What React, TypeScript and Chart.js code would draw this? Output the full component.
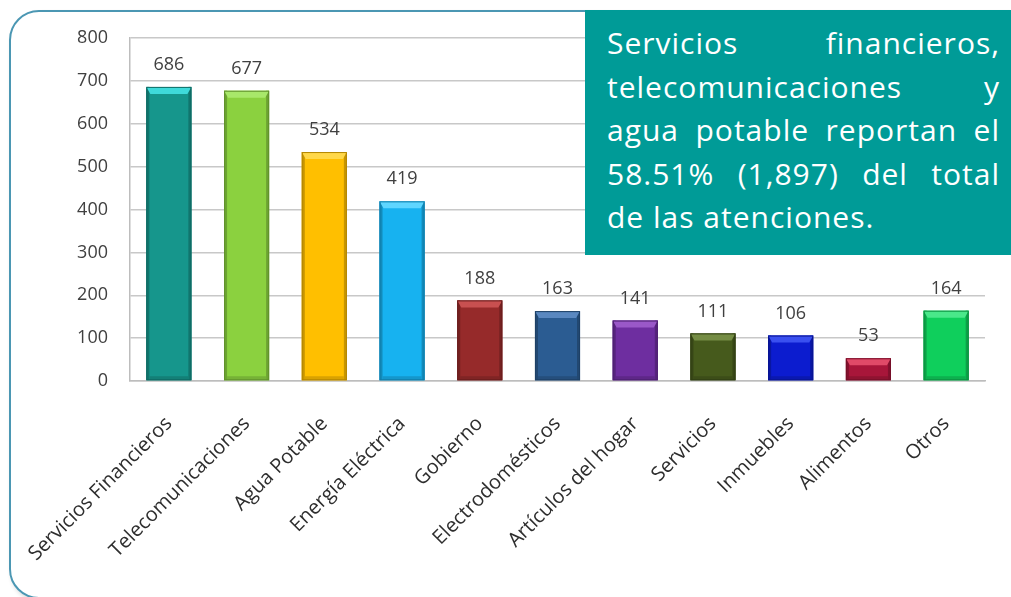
import { useEffect, useRef } from "react";
import { Chart, registerables } from "chart.js";

Chart.register(...registerables);

const categories = [
  "Servicios Financieros",
  "Telecomunicaciones",
  "Agua Potable",
  "Energía Eléctrica",
  "Gobierno",
  "Electrodomésticos",
  "Artículos del hogar",
  "Servicios",
  "Inmuebles",
  "Alimentos",
  "Otros",
];
const values = [686, 677, 534, 419, 188, 163, 141, 111, 106, 53, 164];
const barColors = [
  "#16968c",
  "#8bd13f",
  "#ffbf00",
  "#17b2f0",
  "#962a2a",
  "#2b5c92",
  "#6e2ea0",
  "#465a1c",
  "#0c1ccf",
  "#a8163a",
  "#0fcf5c",
];
const bevelColors = [
  "#3fdada",
  "#a8e86a",
  "#ffd84a",
  "#5fd6ff",
  "#c85050",
  "#5a88c0",
  "#9a58c8",
  "#748c44",
  "#3a50f0",
  "#e04a68",
  "#4ae88a",
];
const yMin = 0;
const yMax = 800;
const yStep = 100;
const noteLines = [
  "Servicios financieros,",
  "telecomunicaciones y",
  "agua potable reportan el",
  "58.51% (1,897) del total",
  "de las atenciones.",
];

function shade(hex: string, f: number): string {
  const n = parseInt(hex.slice(1), 16);
  const r = Math.round(((n >> 16) & 255) * f);
  const g = Math.round(((n >> 8) & 255) * f);
  const b = Math.round((n & 255) * f);
  return `rgb(${r},${g},${b})`;
}

const bevelPlugin = {
  id: "bevel",
  afterDatasetsDraw(chart: any) {
    const ctx = chart.ctx;
    const meta = chart.getDatasetMeta(0);
    meta.data.forEach((bar: any, i: number) => {
      const { x, y, base, width } = bar.getProps(["x", "y", "base", "width"], true);
      const l = x - width / 2;
      const r = x + width / 2;
      const h = base - y;
      const bv = Math.min(7, h / 3);
      ctx.save();
      ctx.fillStyle = shade(barColors[i], 0.78);
      ctx.fillRect(l, y, 3, h);
      ctx.fillRect(r - 3, y, 3, h);
      ctx.fillStyle = shade(barColors[i], 0.85);
      ctx.fillRect(l + 3, base - 4, width - 6, 4);
      ctx.fillStyle = bevelColors[i];
      ctx.beginPath();
      ctx.moveTo(l, y);
      ctx.lineTo(r, y);
      ctx.lineTo(r - 4, y + bv);
      ctx.lineTo(l + 4, y + bv);
      ctx.closePath();
      ctx.fill();
      ctx.strokeStyle = shade(barColors[i], 0.7);
      ctx.lineWidth = 1;
      ctx.strokeRect(l + 0.5, y + 0.5, width - 1, h - 1);
      ctx.restore();
    });
  },
};

const valueLabelPlugin = {
  id: "valueLabels",
  afterDatasetsDraw(chart: any) {
    const ctx = chart.ctx;
    const meta = chart.getDatasetMeta(0);
    ctx.save();
    ctx.font = "18px 'Open Sans'";
    ctx.fillStyle = "#404040";
    ctx.textAlign = "center";
    ctx.textBaseline = "bottom";
    meta.data.forEach((bar: any, i: number) => {
      const { x, y } = bar.getProps(["x", "y"], true);
      ctx.fillText(String(values[i]), x, y - 13);
    });
    ctx.restore();
  },
};

export default function App() {
  const ref = useRef<HTMLCanvasElement | null>(null);

  useEffect(() => {
    if (!ref.current) return;
    const chart = new Chart(ref.current, {
      type: "bar",
      data: {
        labels: categories,
        datasets: [
          {
            data: values,
            backgroundColor: barColors,
            borderWidth: 0,
            barPercentage: 0.58,
            categoryPercentage: 1,
          },
        ],
      },
      options: {
        animation: false,
        responsive: false,
        layout: { padding: { left: 0, top: 38, right: 26, bottom: 0 } },
        plugins: {
          legend: { display: false },
          tooltip: { enabled: false },
        },
        scales: {
          x: {
            grid: { display: false, drawTicks: false },
            border: { color: "#bdbdbd", width: 1.5 },
            ticks: {
              maxRotation: 45,
              minRotation: 45,
              autoSkip: false,
              padding: 31,
              color: "#2e2e2e",
              font: { family: "'Open Sans'", size: 20 },
            },
            afterFit(scale: any) {
              scale.height = 216;
              scale.paddingLeft = 0;
              scale.paddingRight = 0;
            },
          },
          y: {
            min: yMin,
            max: yMax,
            grid: { color: "#c8c8c8", lineWidth: 1.5, drawTicks: false },
            border: { color: "#bdbdbd", width: 1.5 },
            ticks: {
              stepSize: yStep,
              padding: 22,
              color: "#404040",
              font: { family: "'Open Sans'", size: 18 },
            },
            afterFit(scale: any) {
              scale.width = 130;
            },
          },
        },
      },
      plugins: [bevelPlugin, valueLabelPlugin],
    });
    return () => chart.destroy();
  }, []);

  return (
    <div
      style={{
        position: "fixed",
        left: 0,
        top: 0,
        width: 1011,
        height: 597,
        background: "#ffffff",
        overflow: "hidden",
      }}
    >
      <div
        style={{
          position: "absolute",
          left: 9,
          top: 10,
          width: 1030,
          height: 589,
          border: "2px solid #4b97b3",
          borderRadius: 30,
          boxShadow: "2px 3px 4px rgba(0,0,0,0.15)",
          boxSizing: "border-box",
        }}
      />
      <canvas
        ref={ref}
        width={1011}
        height={597}
        style={{ position: "absolute", left: 0, top: 0 }}
      />
      <div
        style={{
          position: "absolute",
          left: 585,
          top: 10,
          width: 426,
          height: 245,
          background: "#009b97",
          color: "#ffffff",
          fontFamily: "'Open Sans', sans-serif",
          fontSize: 30,
          letterSpacing: 1,
          lineHeight: "43.5px",
          padding: "11px 11px 0 22px",
          boxSizing: "border-box",
        }}
      >
        {noteLines.map((line, i) => (
          <div
            key={i}
            style={{
              textAlign: i < noteLines.length - 1 ? "justify" : "left",
              textAlignLast: i < noteLines.length - 1 ? "justify" : "left",
              whiteSpace: "nowrap",
            }}
          >
            {line}
          </div>
        ))}
      </div>
    </div>
  );
}
